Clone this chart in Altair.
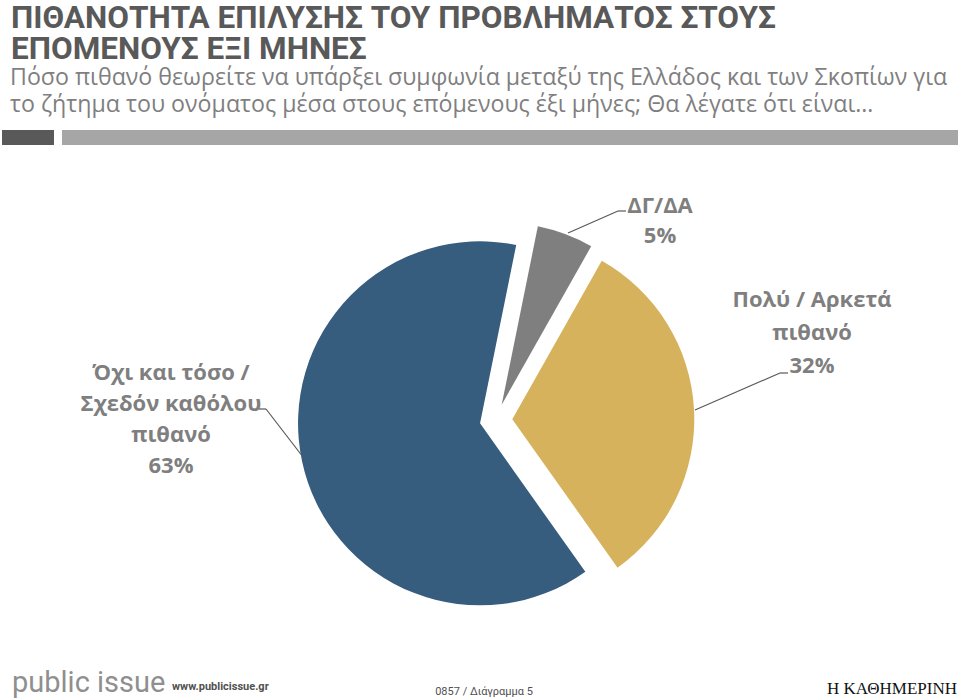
import altair as alt
import pandas as pd

# ---- data ----
categories = ["ΔΓ/ΔΑ", "Πολύ / Αρκετά πιθανό", "Όχι και τόσο / Σχεδόν καθόλου πιθανό"]
values = [5, 32, 63]
order = [1, 2, 3]
slice_colors = ["#7f7f7f", "#d7b25c", "#365c7e"]

title_lines = ["ΠΙΘΑΝΟΤΗΤΑ ΕΠΙΛΥΣΗΣ ΤΟΥ ΠΡΟΒΛΗΜΑΤΟΣ ΣΤΟΥΣ", "ΕΠΟΜΕΝΟΥΣ ΕΞΙ ΜΗΝΕΣ"]
subtitle_lines = [
    "Πόσο πιθανό θεωρείτε να υπάρξει συμφωνία μεταξύ της Ελλάδος και των Σκοπίων για",
    "το ζήτημα του ονόματος μέσα στους επόμενους έξι μήνες; Θα λέγατε ότι είναι…",
]
label_dk = ["ΔΓ/ΔΑ", "5%"]
label_yes = ["Πολύ / Αρκετά", "πιθανό", "32%"]
label_no = ["Όχι και τόσο /", "Σχεδόν καθόλου", "πιθανό", "63%"]

W, H = 960, 700
CX, CY, R, EXPLODE = 496, 420, 182, 16.3
START = 0.2  # radians, clockwise from 12 o'clock
FONT = "Open Sans"
TXT_GRAY = "#7f7f7f"

df = pd.DataFrame({"category": categories, "value": values, "order": order})

pie = (
    alt.Chart(df)
    .transform_window(cum="sum(value)", sort=[alt.SortField("order")], frame=[None, 0])
    .transform_joinaggregate(total="sum(value)")
    .transform_calculate(
        t1=f"{START} + 2*PI*datum.cum/datum.total",
        t0=f"{START} + 2*PI*(datum.cum - datum.value)/datum.total",
    )
    .transform_calculate(mid="(datum.t0 + datum.t1)/2")
    .transform_calculate(
        px=f"{CX} + {EXPLODE}*sin(datum.mid)",
        py=f"{CY} - {EXPLODE}*cos(datum.mid)",
    )
    .mark_arc(radius=R)
    .encode(
        x=alt.X("px:Q", scale=None, axis=None),
        y=alt.Y("py:Q", scale=None, axis=None),
        theta=alt.Theta("t0:Q", scale=None),
        theta2="t1:Q",
        color=alt.Color("category:N", scale=alt.Scale(domain=categories, range=slice_colors), legend=None),
    )
)


def text(lines, x, y, size, color, weight="normal", align="left", font=FONT, line_height=None):
    kw = dict(font=font, fontSize=size, fontWeight=weight, color=color, align=align, baseline="alphabetic")
    if line_height is not None:
        kw["lineHeight"] = line_height
    t = lines if isinstance(lines, list) else [lines]
    return (
        alt.Chart(pd.DataFrame({"a": [0]}))
        .mark_text(text=t, **kw)
        .encode(x=alt.value(x), y=alt.value(y))
    )


def rule(x1, y1, x2, y2, color="#595959", w=1.2):
    return alt.Chart(pd.DataFrame({"a": [0]})).mark_rule(color=color, strokeWidth=w).encode(
        x=alt.value(x1), y=alt.value(y1), x2=alt.value(x2), y2=alt.value(y2)
    )


def bar(x1, y1, x2, y2, color):
    return alt.Chart(pd.DataFrame({"a": [0]})).mark_rect(color=color).encode(
        x=alt.value(x1), y=alt.value(y1), x2=alt.value(x2), y2=alt.value(y2)
    )


layers = [pie]

# title & subtitle
layers.append(text(title_lines, 11, 28, 31.5, "#595959", "bold", font="Roboto", line_height=31))
layers.append(text(subtitle_lines, 10, 85, 23.2, "#7f7f7f", line_height=26.5))
layers.append(bar(2, 130, 54, 145, "#595959"))
layers.append(bar(62, 130, 958, 145, "#a6a6a6"))

# slice labels
layers.append(text(label_dk, 660, 213, 22, TXT_GRAY, "bold", "center", line_height=30))
layers.append(text(label_yes, 812, 307, 22, TXT_GRAY, "bold", "center", line_height=33))
layers.append(text(label_no, 171, 380, 22, TXT_GRAY, "bold", "center", line_height=31))

# leader lines
layers.append(rule(568, 233, 618, 211))
layers.append(rule(618, 211, 626, 211))
layers.append(rule(695, 410, 780, 373))
layers.append(rule(780, 373, 788, 373))
layers.append(rule(259, 409, 266, 409))
layers.append(rule(266, 409, 303, 457))

# footer
layers.append(text("public issue", 12, 692, 29, "#8f8f8f", "normal", "left", "Roboto"))
layers.append(text("www.publicissue.gr", 172, 690, 11, "#505050", "bold", "left", "Roboto"))
layers.append(text("0857 / Διάγραμμα 5", 484, 695, 11, "#505050", "normal", "center", "Roboto"))
layers.append(text("Η ΚΑΘΗΜΕΡΙΝΗ", 957, 694, 17, "#111111", "normal", "right", "Liberation Serif"))

chart = (
    alt.layer(*layers)
    .properties(width=W, height=H, autosize=alt.AutoSizeParams(type="none"), padding=0, background="white")
    .configure_view(stroke=None)
)

chart.save("out.html", embed_options={"renderer": "svg", "actions": False})
